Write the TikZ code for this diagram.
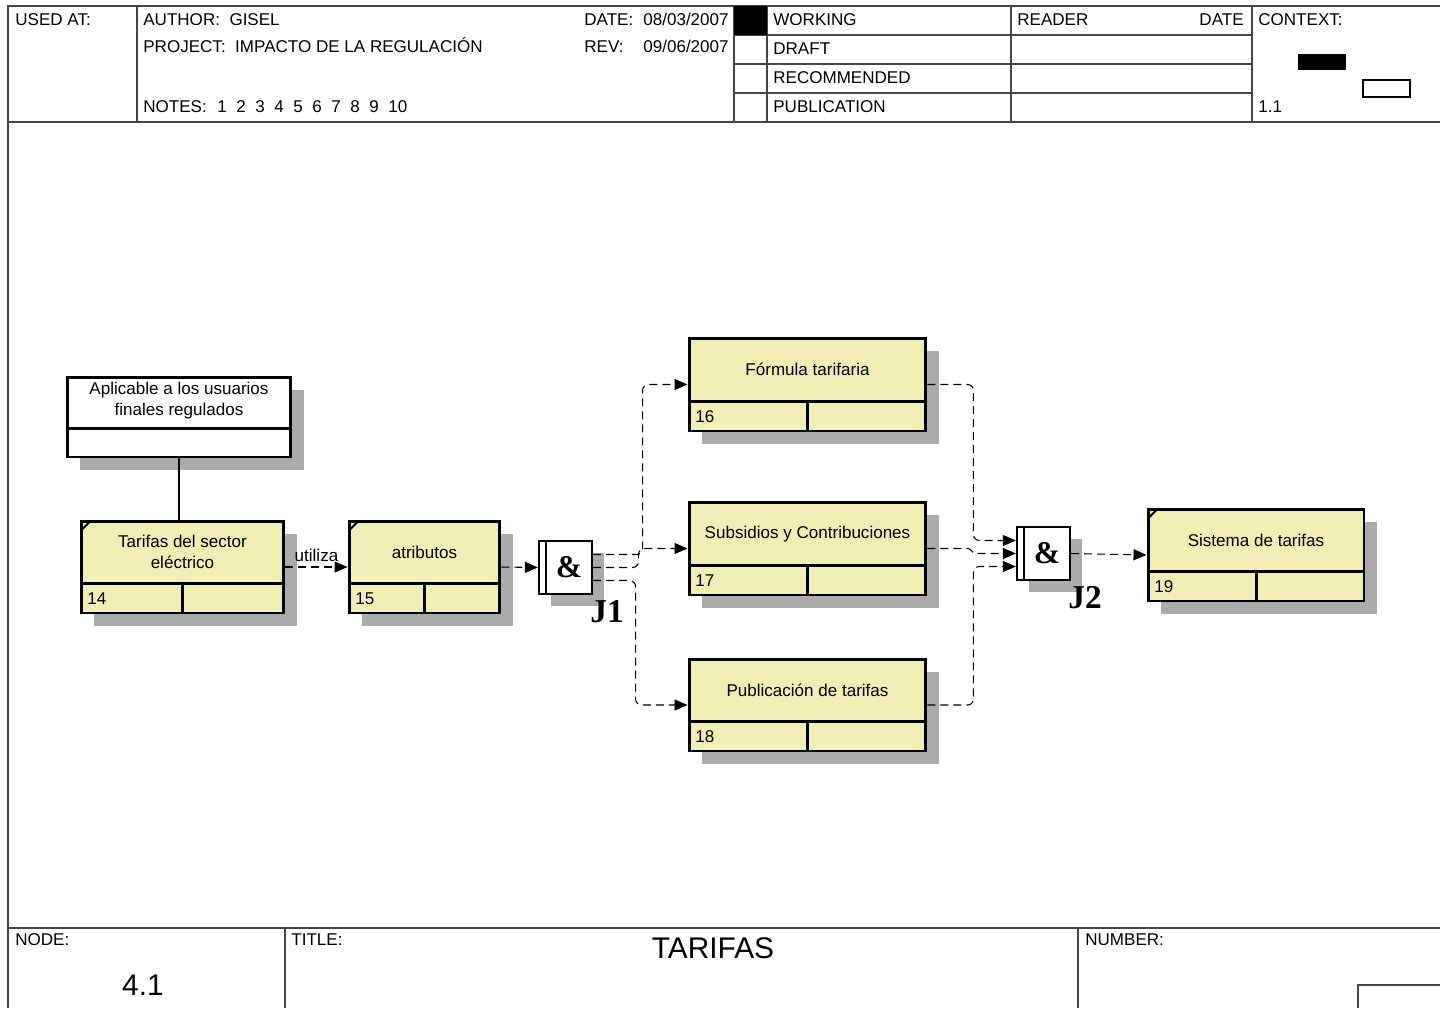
\documentclass[tikz,border=0pt]{standalone}
\usepackage{fontspec}
\setmainfont{Liberation Sans}
\newfontfamily\serifb{Liberation Serif}
\usetikzlibrary{arrows.meta}

\definecolor{amarillo}{RGB}{240,238,180}
\definecolor{marcogris}{RGB}{70,70,70}

\tikzset{
  sombra/.style={fill=black!33},
  caja/.style={draw, fill=amarillo, line width=1.7pt, inner sep=0pt},
  nota/.style={draw, fill=white, line width=1.7pt, inner sep=0pt},
  juntura/.style={draw, fill=white, line width=1.3pt, minimum size=10.6mm, inner sep=0pt},
  borde/.style={line width=1.7pt},
  flujo/.style={line width=0.6pt, dash pattern=on 1.6mm off 1mm, rounded corners=1.2mm,
    -{Triangle[length=2.6mm,width=2.2mm]}},
  marco/.style={line width=0.8pt, draw=marcogris},
  rotulo/.style={anchor=base west, inner sep=0pt},
}

% caja: nombre, x1, y1, x2, y2, texto, numero
\newcommand\caja[7]{%
  \fill[sombra] ({#2+13},{#3+13}) rectangle ({#4+13},{#5+13});
  \node[caja, minimum width={(#4-#2)*0.2mm}, minimum height={(#5-#3)*0.2mm}]
    (#1) at ({(#2+#4)/2},{(#3+#5)/2}) {};
  \draw[borde] (#2,{#5-29.5}) -- (#4,{#5-29.5})
    ({(#2+#4)/2},{#5-29.5}) -- ({(#2+#4)/2},#5);
  \node[align=center] (#1-t) at ({(#2+#4)/2},{(#3+#5-29.5)/2}) {#6};
  \node[anchor=west, inner sep=0pt] (#1-n) at ({#2+6},{#5-14.5}) {#7};
}

% junta: nombre, x1, y1, etiqueta
\newcommand\junta[4]{%
  \fill[sombra] ({#2+12},{#3+12}) rectangle ({#2+65},{#3+65});
  \node[juntura] (#1) at ({#2+26.5},{#3+26.5}) {};
  \draw[line width=1.3pt] ({#2+7},#3) -- ({#2+7},{#3+53});
  \node[font=\serifb\bfseries\fontsize{18}{18}\selectfont] (#1-y) at ({#2+30},{#3+26.5}) {\&};
  \node[font=\serifb\bfseries\fontsize{19}{19}\selectfont] (#1-n) at ({#2+68},{#3+71}) {#4};
}

\begin{document}
\begin{tikzpicture}[x=0.02cm, y=-0.02cm, font=\fontsize{9.7}{11.9}\selectfont]
  \useasboundingbox (0,0) rectangle (1440,1008);

  % marco
  \draw[marco] (1440,6) -- (8,6) -- (8,1008);
  \draw[marco] (8,122) -- (1440,122);
  \draw[marco] (137,6) -- (137,122);
  \foreach \x in {734,767,1011,1252}
    \draw[marco] (\x,6) -- (\x,122);
  \foreach \y in {35,64,93}
    \draw[marco] (734,\y) -- (1252,\y);
  \fill (734,6) rectangle (767,35);
  \fill (1298,54) rectangle (1346,70);
  \draw[line width=0.6pt] (1363,80) rectangle (1410,97);
  \draw[marco] (8,928) -- (1440,928);
  \draw[marco] (285,928) -- (285,1008);
  \draw[marco] (1078,928) -- (1078,1008);
  \draw[marco] (1358,1008) -- (1358,985) -- (1440,985);

  % cabecera
  \node[rotulo] (usado) at (15,25) {USED AT:};
  \node[rotulo] (autor) at (143,25) {AUTHOR:\ \ GISEL};
  \node[rotulo] (proyecto) at (143,52) {PROJECT:\ \ IMPACTO DE LA REGULACIÓN};
  \node[rotulo] (notas) at (143,112) {NOTES:};
  \foreach \n [count=\i] in {1,...,10}
    \node[rotulo] (nota\i) at ({217+19*(\i-1)},112) {\n};
  \node[rotulo] (fecha) at (584,25) {DATE:};
  \node[rotulo] (fecha-v) at (643,25) {08/03/2007};
  \node[rotulo] (rev) at (584,52) {REV:};
  \node[rotulo] (rev-v) at (643,52) {09/06/2007};
  \node[rotulo] (working) at (773,25) {WORKING};
  \node[rotulo] (draft) at (773,54) {DRAFT};
  \node[rotulo] (recom) at (773,83) {RECOMMENDED};
  \node[rotulo] (publi) at (773,112) {PUBLICATION};
  \node[rotulo] (lector) at (1017,25) {READER};
  \node[anchor=base east, inner sep=0pt] (lector-f) at (1244,25) {DATE};
  \node[rotulo] (contexto) at (1258,25) {CONTEXT:};
  \node[rotulo] (contexto-n) at (1258,112) {1.1};

  % pie
  \node[rotulo] (nodo) at (15,945) {NODE:};
  \node[rotulo] (tit) at (291,945) {TITLE:};
  \node[rotulo] (numero) at (1085,945) {NUMBER:};
  \node[anchor=base, inner sep=0pt, font=\fontsize{17}{20}\selectfont] (titulo) at (713,958) {TARIFAS};
  \node[anchor=base, inner sep=0pt, font=\fontsize{17}{20}\selectfont] (nodo-v) at (143,995) {4.1};

  % nota
  \fill[sombra] (80,390) rectangle (304,470);
  \node[nota, minimum width=224*0.2mm, minimum height=80*0.2mm] (aplica) at (179,417) {};
  \draw[borde] (67,428) -- (291,428);
  \node[align=center] (aplica-t) at (179,401) {Aplicable a los usuarios\\finales regulados};

  % cajas
  \caja{b14}{81}{521}{284}{613}{Tarifas del sector\\eléctrico}{14}
  \caja{b15}{349}{521}{500}{613}{atributos}{15}
  \caja{b16}{689}{338}{926}{431}{Fórmula tarifaria}{16}
  \caja{b17}{689}{502}{926}{595}{Subsidios y Contribuciones}{17}
  \caja{b18}{689}{659}{926}{751}{Publicación de tarifas}{18}
  \caja{b19}{1148}{509}{1364}{601}{Sistema de tarifas}{19}
  \foreach \b in {b14,b15,b19}
    \draw[line width=1.1pt] ([shift={(0.85pt,-2.2mm)}]\b.north west)
      -- ([shift={(2.2mm,-0.85pt)}]\b.north west);

  \junta{j1}{539}{541}{J1}
  \junta{j2}{1017}{527}{J2}

  % conexiones
  \draw[line width=0.6pt] (aplica.south) -- (aplica.south |- b14.north);
  \draw[flujo] (b14.east) -- node[above, inner sep=2.5pt] (utiliza) {utiliza} (b15.west);
  \draw[flujo] (b15.east) -- (j1.west);
  \draw[flujo] ([yshift=2.6mm]j1.east) -| ([xshift=-9mm]b16.west) -- (b16.west);
  \draw[flujo] (j1.east) -| ([xshift=-9.8mm]b17.west) -- (b17.west);
  \draw[flujo] ([yshift=-2.6mm]j1.east) -| ([xshift=-10.4mm]b18.west) -- (b18.west);
  \draw[flujo] (b16.east) -- ([xshift=9.2mm]b16.east) |- ([yshift=2.6mm]j2.west);
  \draw[flujo] (b17.east) -- ([xshift=7mm]b17.east) to[out=0,in=180] ([xshift=-7mm]j2.west) -- (j2.west);
  \draw[flujo] (b18.east) -- ([xshift=9.2mm]b18.east) |- ([yshift=-2.6mm]j2.west);
  \draw[flujo] (j2.east) -- (b19.west);
\end{tikzpicture}
\end{document}
